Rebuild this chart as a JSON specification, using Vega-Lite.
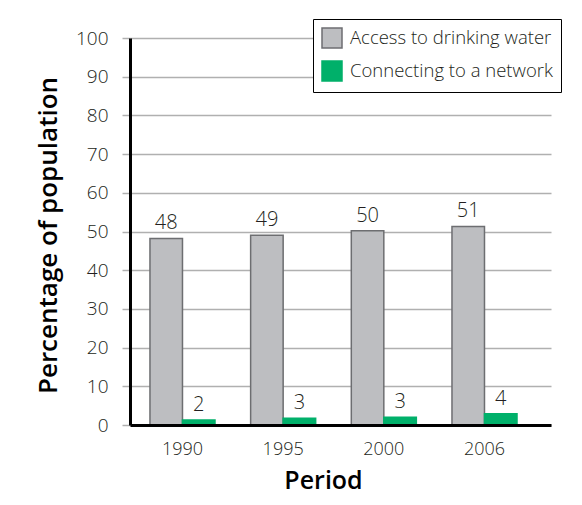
{
  "$schema": "https://vega.github.io/schema/vega-lite/v6.json",
  "width": 421,
  "height": 387,
  "autosize": "none",
  "padding": {"left": 130, "top": 38, "right": 31, "bottom": 80},
  "background": "white",
  "config": {
    "font": "Open Sans",
    "view": {"stroke": null}
  },
  "data": {
    "values": [
      {"period": "1990", "series": "Access to drinking water", "value": 48.2, "label": "48"},
      {"period": "1990", "series": "Connecting to a network", "value": 1.3, "label": "2"},
      {"period": "1995", "series": "Access to drinking water", "value": 49.0, "label": "49"},
      {"period": "1995", "series": "Connecting to a network", "value": 1.75, "label": "3"},
      {"period": "2000", "series": "Access to drinking water", "value": 50.2, "label": "50"},
      {"period": "2000", "series": "Connecting to a network", "value": 2.0, "label": "3"},
      {"period": "2006", "series": "Access to drinking water", "value": 51.3, "label": "51"},
      {"period": "2006", "series": "Connecting to a network", "value": 2.9, "label": "4"}
    ]
  },
  "encoding": {
    "x": {
      "field": "period",
      "type": "nominal",
      "scale": {"paddingInner": 0.354, "paddingOuter": 0.268, "align": 0.37},
      "axis": {
        "title": "Period",
        "titleFontSize": 25,
        "titleFontWeight": 600,
        "titleColor": "#000000",
        "titleX": 193,
        "titleY": 63,
        "titleBaseline": "alphabetic",
        "labelAngle": 0,
        "labelFontSize": 18,
        "labelFontWeight": 300,
        "labelColor": "#231f20",
        "labelBaseline": "alphabetic",
        "labelPadding": 29,
        "ticks": false,
        "domainColor": "#000000",
        "domainWidth": 3,
        "zindex": 1
      }
    },
    "xOffset": {
      "field": "series",
      "type": "nominal",
      "sort": ["Access to drinking water", "Connecting to a network"],
      "scale": {"paddingInner": 0, "paddingOuter": 0}
    },
    "y": {
      "field": "value",
      "type": "quantitative",
      "scale": {"domain": [0, 100], "nice": false},
      "axis": {
        "title": "Percentage of population",
        "titleFontSize": 26,
        "titleFontWeight": 600,
        "titleColor": "#000000",
        "titleX": -74,
        "titleY": 197,
        "titleBaseline": "alphabetic",
        "titleAlign": "center",
        "values": [0, 10, 20, 30, 40, 50, 60, 70, 80, 90, 100],
        "labelFontSize": 19,
        "labelFontWeight": 300,
        "labelColor": "#231f20",
        "labelPadding": 14,
        "tickSize": 8,
        "tickColor": "#b0b0b0",
        "tickWidth": 1.5,
        "grid": true,
        "gridColor": "#b0b0b0",
        "gridWidth": 1.5,
        "domainColor": "#000000",
        "domainWidth": 3
      }
    }
  },
  "layer": [
    {
      "mark": {"type": "bar", "strokeWidth": 1.5},
      "encoding": {
        "color": {
          "field": "series",
          "type": "nominal",
          "scale": {"domain": ["Access to drinking water", "Connecting to a network"], "range": ["#bdbec1", "#00b06a"]},
          "legend": {
            "title": null,
            "orient": "none",
            "legendX": 183,
            "legendY": -19,
            "symbolType": "square",
            "symbolSize": 400,
            "symbolStrokeWidth": 1.5,
            "labelFontSize": 18.5,
            "labelFontWeight": 300,
            "labelColor": "#231f20",
            "labelOffset": 7,
            "rowPadding": 7,
            "padding": 8,
            "fillColor": "white",
            "strokeColor": "#000000",
            "labelLimit": 300
          }
        },
        "stroke": {
          "field": "series",
          "type": "nominal",
          "scale": {"domain": ["Access to drinking water", "Connecting to a network"], "range": ["#6d6e71", "#00b06a"]},
          "legend": null
        }
      }
    },
    {
      "mark": {"type": "text", "baseline": "alphabetic", "dy": -9, "fontSize": 20, "fontWeight": 300, "color": "#231f20"},
      "encoding": {
        "text": {"field": "label", "type": "nominal"}
      }
    }
  ]
}
